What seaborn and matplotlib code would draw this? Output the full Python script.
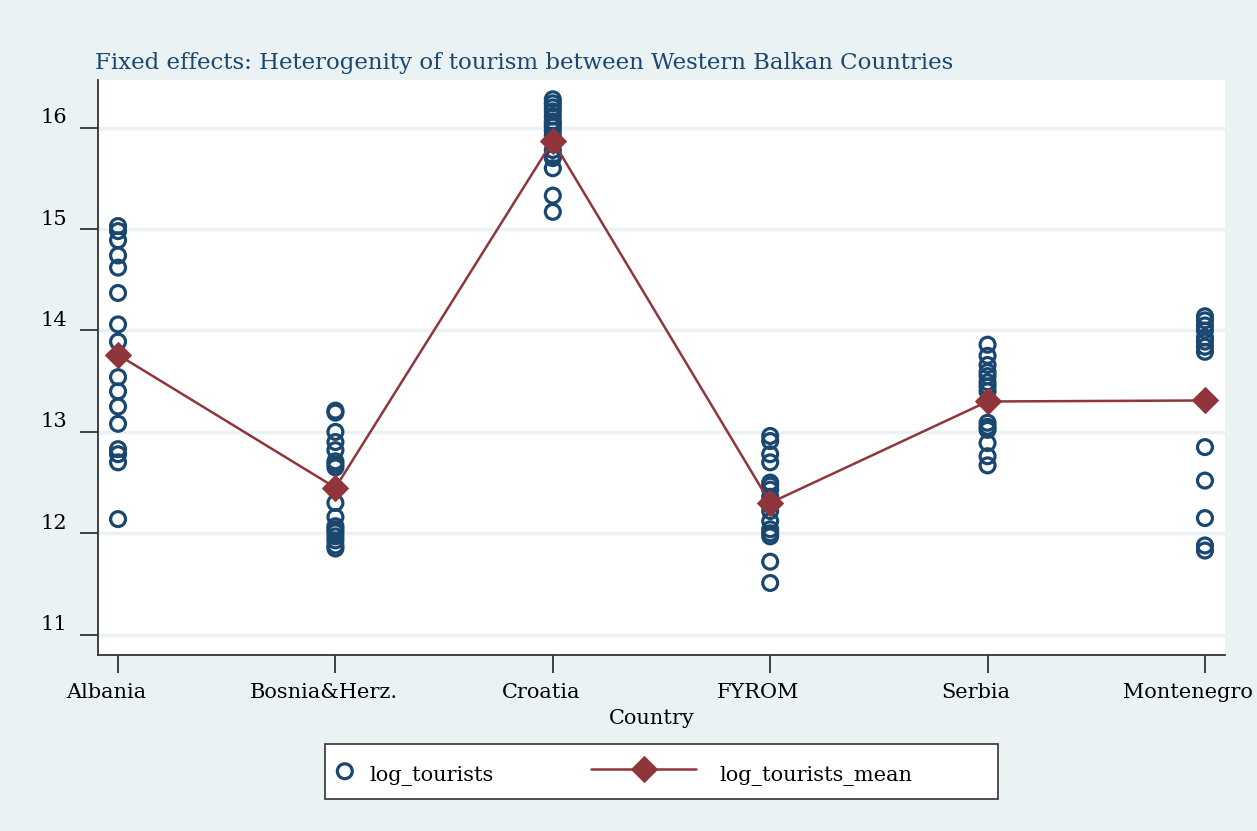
import numpy as np
import pandas as pd
import matplotlib
matplotlib.use('Agg')
import matplotlib.pyplot as plt
from matplotlib.legend_handler import HandlerLine2D
from matplotlib.patches import Rectangle
from matplotlib.transforms import ScaledTranslation
import seaborn as sns

countries = ['Albania', 'Bosnia&Herz.', 'Croatia', 'FYROM', 'Serbia', 'Montenegro']

albania = [15.03, 14.98, 14.89, 14.74, 14.62, 14.37, 14.06, 13.89, 13.54, 13.40,
           13.25, 13.08, 12.83, 12.78, 12.70, 12.14]
bosnia = [13.21, 13.19, 13.00, 12.90, 12.82, 12.71, 12.68, 12.65, 12.30, 12.16,
          12.07, 12.04, 12.01, 11.97, 11.93, 11.88, 11.85]
croatia = [16.28, 16.24, 16.20, 16.16, 16.11, 16.06, 16.04, 16.01, 15.97, 15.92,
           15.78, 15.73, 15.70, 15.60, 15.33, 15.17]
fyrom = [12.96, 12.91, 12.78, 12.70, 12.50, 12.47, 12.43, 12.36, 12.28, 12.22,
         12.12, 12.04, 12.00, 11.97, 11.72, 11.51]
serbia = [13.86, 13.75, 13.66, 13.59, 13.55, 13.49, 13.45, 13.40, 13.09, 13.05,
          13.02, 12.89, 12.76, 12.67]
montenegro = [14.14, 14.10, 14.05, 14.00, 13.93, 13.89, 13.84, 13.79, 12.85, 12.52,
              12.15, 11.88, 11.83]

means = [13.76, 12.45, 15.87, 12.30, 13.30, 13.31]

y_ticks = [11, 12, 13, 14, 15, 16]

# long table of the observations
groups = [albania, bosnia, croatia, fyrom, serbia, montenegro]
rows = []
for c, vals in zip(countries, groups):
    for v in vals:
        rows.append((c, v))
obs = pd.DataFrame(rows, columns=['Country', 'log_tourists'])
avg = pd.DataFrame({'Country': countries, 'log_tourists_mean': means})

bg = '#eaf2f3'
navy = '#1a476f'
maroon = '#90353b'

sns.set_style('white')
plt.rcParams['font.family'] = ['DejaVu Serif']
plt.rcParams['text.color'] = 'black'

W, H = 1257, 831
fig = plt.figure(figsize=(W / 100, H / 100), dpi=100, facecolor=bg)
ax = fig.add_axes([0.078, 0.2118, 0.8965, 0.6919])
ax.set_facecolor('white')

for t in y_ticks:
    ax.axhline(t, color=bg, lw=2.5, zorder=0)

sns.scatterplot(data=obs, x='Country', y='log_tourists', ax=ax, marker='o', s=115,
                facecolor='none', edgecolor=navy, linewidth=2.3, label='log_tourists', zorder=3)
sns.lineplot(data=avg, x='Country', y='log_tourists_mean', ax=ax, color=maroon, lw=1.8,
             marker='D', markersize=13.5, markeredgecolor=maroon, label='log_tourists_mean',
             sort=False, zorder=4)

ax.set_xlim(-0.092, 5.092)
ax.set_ylim(10.80, 16.47)
ax.set_yticks(y_ticks)
ax.set_xlabel('Country', fontsize=15, color='black', labelpad=5)
ax.set_ylabel('')
ax.tick_params(axis='both', length=13, width=1.3, color='#333333', labelsize=15,
               labelcolor='black', direction='out')
ax.tick_params(axis='y', pad=12)
ax.tick_params(axis='x', pad=7)
ax.tick_params(left=True, bottom=True)
for s in ['top', 'right']:
    ax.spines[s].set_visible(False)
for s in ['left', 'bottom']:
    ax.spines[s].set_color('#333333')
    ax.spines[s].set_linewidth(1.3)

# the reference draws its tick labels a little off the ticks
xlabs = ax.get_xticklabels()
for i, lab in enumerate(xlabs):
    dx = -0.17 if i == len(xlabs) - 1 else -0.12
    lab.set_transform(lab.get_transform() + ScaledTranslation(dx, 0.0, fig.dpi_scale_trans))
for lab in ax.get_yticklabels():
    lab.set_transform(lab.get_transform() + ScaledTranslation(0.04, 0.12, fig.dpi_scale_trans))
ax.xaxis.label.set_transform(ax.xaxis.label.get_transform()
                             + ScaledTranslation(-0.10, 0.0, fig.dpi_scale_trans))

ax.set_title('Fixed effects: Heterogenity of tourism between Western Balkan Countries',
             loc='left', fontsize=16.5, color=navy, pad=8, x=-0.003)


class LongLine(HandlerLine2D):
    def adjust_drawing_area(self, legend, orig_handle, xdescent, ydescent, width, height, fontsize):
        extra = 4.85 * fontsize
        return xdescent + extra, ydescent, width + extra, height


handles, labels = ax.get_legend_handles_labels()
ax.get_legend().remove()

box = Rectangle((325 / W, 1 - 799 / H), 673 / W, 55 / H, transform=fig.transFigure,
                facecolor='white', edgecolor='#333333', lw=1.2, zorder=1)
fig.add_artist(box)
leg = fig.legend(handles, labels, ncol=2, loc='upper left', bbox_to_anchor=(325 / W, 1 - 744 / H),
                 borderaxespad=0, frameon=False, fontsize=15, labelcolor='black',
                 handlelength=0.2, handletextpad=1.1, columnspacing=9.5,
                 borderpad=0.85, handler_map={handles[1]: LongLine(numpoints=1)})
leg.set_zorder(2)
for txt in leg.get_texts():
    txt.set_transform(txt.get_transform() + ScaledTranslation(0, -0.04, fig.dpi_scale_trans))

fig.savefig('out.png', dpi=100, facecolor=bg)
